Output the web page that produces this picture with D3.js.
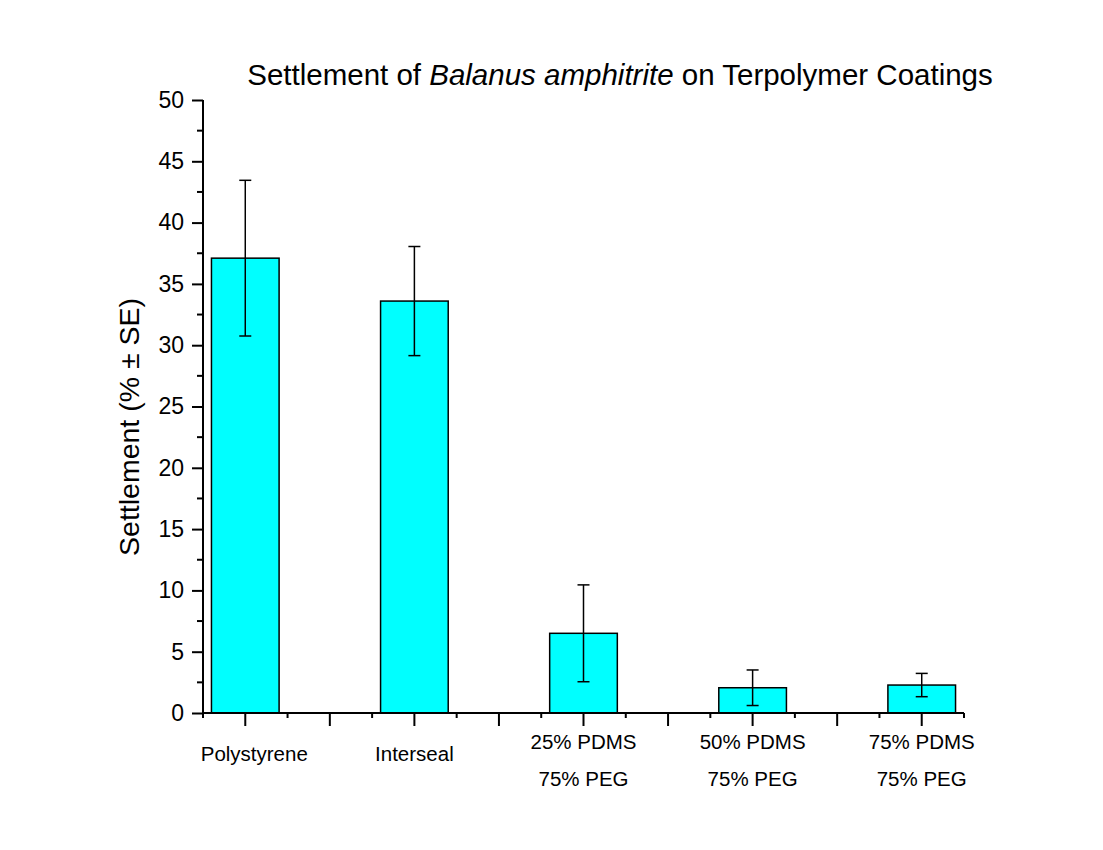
<!DOCTYPE html>
<html>
<head>
<meta charset="utf-8">
<script src="https://cdn.jsdelivr.net/npm/d3@7"></script>
<style>
  html, body { margin: 0; padding: 0; background: #fff; }
  svg { display: block; font-family: "Liberation Sans", Arial, sans-serif; }
</style>
</head>
<body>
<script>
// ---- data ----
const categories = ["Polystyrene", "Interseal", "25% PDMS\n75% PEG", "50% PDMS\n75% PEG", "75% PDMS\n75% PEG"];
const positions = [1, 3, 5, 7, 9];
const settlement = [37.1, 33.6, 6.5, 2.06, 2.28];
const errorSE = [6.35, 4.45, 3.95, 1.45, 0.95];
const yTicks = [0, 5, 10, 15, 20, 25, 30, 35, 40, 45, 50];

const W = 1103, H = 850;
const svg = d3.select("body").append("svg").attr("width", W).attr("height", H);
svg.append("rect").attr("width", W).attr("height", H).attr("fill", "#fff");

const x = d3.scaleLinear().domain([0.5, 9.5]).range([203, 964]);
const y = d3.scaleLinear().domain([0, 50]).range([713, 100]);
const barW = x(0.8) - x(0);

// bars
const g = svg.append("g");
g.selectAll("rect.bar").data(settlement).join("rect")
  .attr("class", "bar")
  .attr("x", (d, i) => x(positions[i]) - barW / 2)
  .attr("y", d => y(d))
  .attr("width", barW)
  .attr("height", d => y(0) - y(d))
  .attr("fill", "#00FFFF")
  .attr("stroke", "#000")
  .attr("stroke-width", 1.5);

// error bars
const cap = 6;
settlement.forEach((v, i) => {
  const cx = x(positions[i]);
  const top = y(v + errorSE[i]), bot = y(v - errorSE[i]);
  const eg = g.append("g").attr("stroke", "#000").attr("stroke-width", 1.5);
  eg.append("line").attr("x1", cx).attr("x2", cx).attr("y1", top).attr("y2", bot);
  eg.append("line").attr("x1", cx - cap).attr("x2", cx + cap).attr("y1", top).attr("y2", top);
  eg.append("line").attr("x1", cx - cap).attr("x2", cx + cap).attr("y1", bot).attr("y2", bot);
});

// y axis
const yAxis = d3.axisLeft(y).tickValues(yTicks).tickSize(11).tickPadding(8).tickFormat(d3.format("d"));
const yg = svg.append("g").attr("transform", `translate(${x(0.5)},0)`).call(yAxis);
yg.select(".domain").remove();
yg.append("line").attr("x1", 0).attr("x2", 0).attr("y1", y(50)).attr("y2", y(0)).attr("stroke", "#000").attr("stroke-width", 2);
yg.selectAll(".tick line").attr("stroke", "#000").attr("stroke-width", 2);
yg.selectAll(".tick text").attr("font-size", 23).attr("fill", "#000")
  .attr("font-family", "'Liberation Sans', Arial, sans-serif");
const yMinor = d3.range(2.5, 50, 5);
yg.selectAll("line.minor").data(yMinor).join("line").attr("class", "minor")
  .attr("x1", -6).attr("x2", 0).attr("y1", d => y(d)).attr("y2", d => y(d))
  .attr("stroke", "#000").attr("stroke-width", 2);

// x axis
const xg = svg.append("g").attr("transform", `translate(0,${y(0)})`);
xg.append("line").attr("x1", x(0.5) - 1).attr("x2", x(9.5)).attr("y1", 0).attr("y2", 0)
  .attr("stroke", "#000").attr("stroke-width", 2);
const xMajor = d3.range(1, 10, 1);
const xMinor = d3.range(0.5, 10, 1);
xg.selectAll("line.major").data(xMajor).join("line").attr("class", "major")
  .attr("x1", d => x(d)).attr("x2", d => x(d)).attr("y1", 0).attr("y2", 13)
  .attr("stroke", "#000").attr("stroke-width", 2);
xg.selectAll("line.minor").data(xMinor).join("line").attr("class", "minor")
  .attr("x1", d => x(d)).attr("x2", d => x(d)).attr("y1", 0).attr("y2", 5)
  .attr("stroke", "#000").attr("stroke-width", 2);

// category labels
categories.forEach((c, i) => {
  const lines = c.split("\n");
  const cx = x(positions[i]) + (i === 0 ? 9 : 0);
  const t = svg.append("text").attr("text-anchor", "middle").attr("font-size", 20.5).attr("fill", "#000");
  if (lines.length === 1) {
    t.attr("x", cx).attr("y", 761).text(lines[0]);
  } else {
    lines.forEach((l, k) => {
      t.append("tspan").attr("x", cx).attr("y", 749 + k * 37).text(l);
    });
  }
});

// y axis title
svg.append("text")
  .attr("transform", `translate(139,427) rotate(-90)`)
  .attr("text-anchor", "middle")
  .attr("font-size", 28.5)
  .attr("fill", "#000")
  .text("Settlement (% ± SE)");

// title
const title = svg.append("text").attr("x", 620).attr("y", 85).attr("text-anchor", "middle")
  .attr("font-size", 29.5).attr("fill", "#000");
title.append("tspan").text("Settlement of ");
title.append("tspan").attr("font-style", "italic").text("Balanus amphitrite");
title.append("tspan").text(" on Terpolymer Coatings");
</script>
</body>
</html>
